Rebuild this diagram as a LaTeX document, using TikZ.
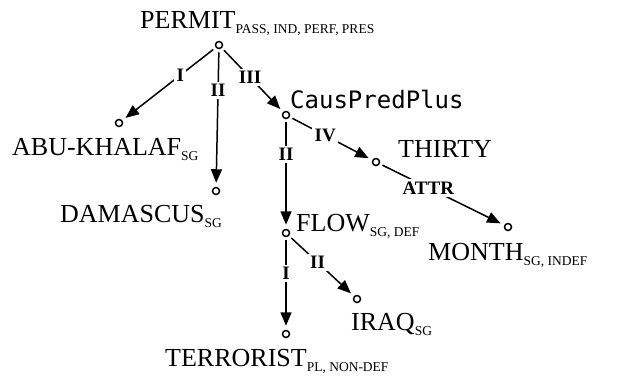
\documentclass[tikz,border=0pt]{standalone}
\usepackage{fontspec}
\setmainfont{Liberation Serif}
\newfontfamily\monofont{DejaVu Sans Mono}
\usetikzlibrary{arrows.meta}

% word forms: lexeme in large type, grammemes as a lowered small subscript
\newcommand\wordsize{\fontsize{26}{28}\selectfont}
\newcommand\gramsize{\fontsize{13.5}{15}\selectfont}
\newcommand\lex[2]{{\wordsize #1}\raisebox{-5pt}{\gramsize #2}}

\begin{document}
\begin{tikzpicture}[x=1pt,y=-1pt,
  vertex/.style={circle,draw,line width=1.5pt,inner sep=0pt,minimum size=7pt},
  word/.style={anchor=base west,inner sep=0pt},
  rel/.style={line width=1.5pt,-{Triangle[length=13.5pt,width=11pt]},
              shorten <=3pt,shorten >=4pt},
  rlab/.style={fill=white,inner sep=2.5pt,
               font=\bfseries\fontsize{19}{20}\selectfont}]
\useasboundingbox (0,0) rectangle (618,378);

% tree vertices
\node[vertex] (permit) at (219,45)  {};
\node[vertex] (abu)    at (119,123) {};
\node[vertex] (dam)    at (216,191) {};
\node[vertex] (caus)   at (286,115) {};
\node[vertex] (thirty) at (376,162) {};
\node[vertex] (month)  at (508,227) {};
\node[vertex] (flow)   at (286,233) {};
\node[vertex] (iraq)   at (357,299) {};
\node[vertex] (terr)   at (286,334) {};

% vertex names
\node[word] (tpermit) at (140,28)  {\lex{PERMIT}{PASS, IND, PERF, PRES}};
\node[word] (tabu)    at (12,155)  {\lex{ABU-KHALAF}{SG}};
\node[word] (tdam)    at (60,222)  {\lex{DAMASCUS}{SG}};
\node[word] (tcaus)   at (290,108) {\monofont\fontsize{24}{26}\selectfont CausPredPlus};
\node[word] (tthirty) at (398,157) {\wordsize THIRTY};
\node[word] (tmonth)  at (428,260) {\lex{MONTH}{SG, INDEF}};
\node[word] (tflow)   at (296,231) {\lex{FLOW}{SG, DEF}};
\node[word] (tiraq)   at (351,330) {\lex{IRAQ}{SG}};
\node[word] (tterr)   at (165,366) {\lex{TERRORIST}{PL, NON-DEF}};

% dependency relations
\draw[rel] (permit) -- node[rlab,pos=0.38] {I}    (abu);
\draw[rel] (permit) -- node[rlab,pos=0.30] {II}   (dam);
\draw[rel] (permit) -- node[rlab,pos=0.46] {III}  (caus);
\draw[rel] (caus)   -- node[rlab,pos=0.32] {II}   (flow);
\draw[rel] (caus)   -- node[rlab,pos=0.43] {IV}   (thirty);
\draw[rel] (thirty) -- node[rlab,pos=0.39] {ATTR} (month);
\draw[rel] (flow)   -- node[rlab,pos=0.44] {II}   (iraq);
\draw[rel] (flow)   -- node[rlab,pos=0.39] {I}    (terr);
\end{tikzpicture}
\end{document}
